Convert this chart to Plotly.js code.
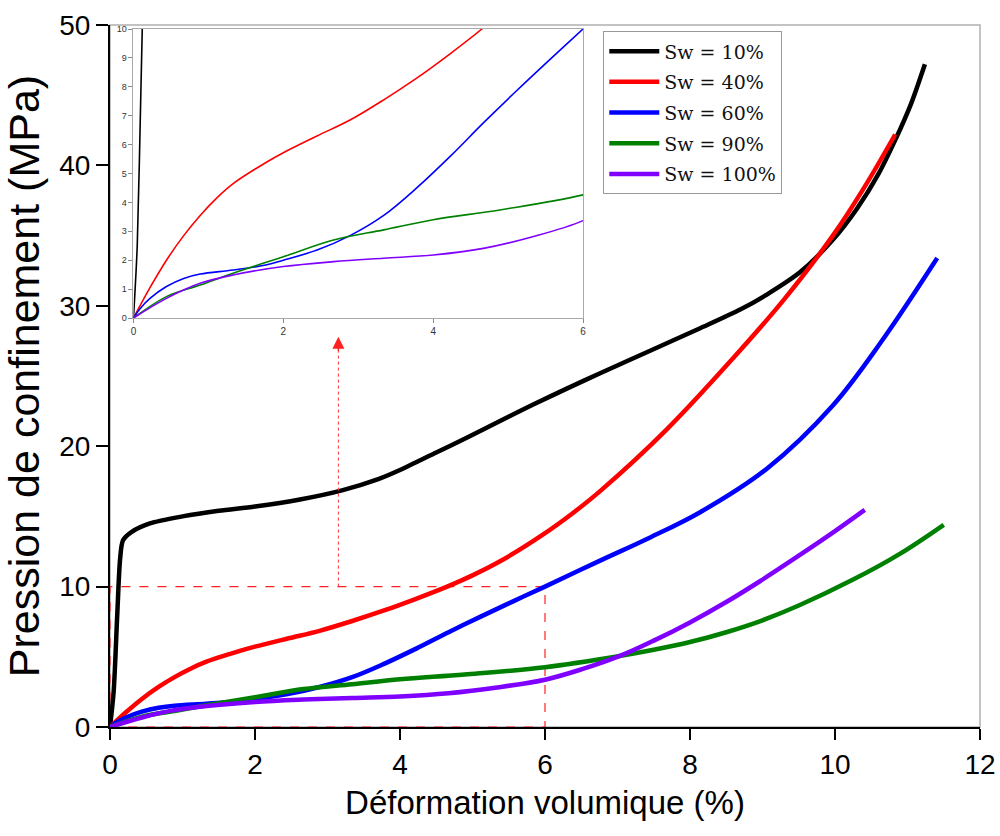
<!DOCTYPE html>
<html>
<head>
<meta charset="utf-8">
<script src="https://cdn.plot.ly/plotly-3.0.1.min.js"></script>
<style>html,body{margin:0;padding:0;background:#fff;}#chart{width:1000px;height:836px;}</style>
</head>
<body>
<div id="chart"></div>
<script>
// Series names
const seriesNames = ["Sw = 10%", "Sw = 40%", "Sw = 60%", "Sw = 90%", "Sw = 100%"];
const seriesColors = ["#000000", "#ff0000", "#0000ff", "#008000", "#8000ff"];

// Sw = 10%
const x10 = [0, 0.05, 0.1, 0.14, 0.18, 0.3, 0.55, 1.0, 1.5, 2.0, 2.62, 3.2, 3.7, 4.0, 4.5, 4.92, 5.4, 5.83, 6.3, 6.76, 7.45, 8.14, 8.7, 9.06, 9.52, 9.97, 10.3, 10.6, 10.83, 11.05, 11.24];
const y10 = [0, 2.5, 8.0, 12.0, 13.3, 13.9, 14.5, 15.0, 15.4, 15.7, 16.2, 16.85, 17.65, 18.3, 19.55, 20.6, 21.85, 22.95, 24.1, 25.2, 26.8, 28.4, 29.75, 30.8, 32.4, 34.7, 36.9, 39.4, 41.8, 44.4, 47.2];

// Sw = 40%
const x40 = [0, 0.22, 0.44, 0.67, 0.89, 1.11, 1.33, 1.78, 2.0, 2.45, 2.89, 3.34, 3.78, 4.23, 4.65, 5.0, 5.38, 5.97, 6.4, 6.76, 7.68, 8.6, 9.29, 9.97, 10.4, 10.83];
const y40 = [0, 1.05, 2.0, 2.85, 3.55, 4.15, 4.65, 5.4, 5.72, 6.3, 6.85, 7.55, 8.3, 9.15, 10.0, 10.8, 11.8, 13.7, 15.3, 16.8, 21.2, 26.3, 30.4, 35.0, 38.4, 42.2];

// Sw = 60%
const x60 = [0, 0.09, 0.22, 0.44, 0.67, 0.89, 1.33, 1.78, 2.0, 2.45, 2.89, 3.34, 3.78, 4.23, 4.67, 5.12, 5.56, 6.0, 6.76, 7.45, 8.14, 9.06, 9.97, 10.66, 11.41];
const y60 = [0, 0.33, 0.68, 1.09, 1.37, 1.52, 1.66, 1.84, 2.0, 2.35, 2.85, 3.55, 4.5, 5.6, 6.75, 7.88, 8.95, 10.0, 11.85, 13.5, 15.3, 18.4, 22.9, 27.6, 33.4];

// Sw = 90%
const x90 = [0, 0.44, 0.89, 1.33, 2.0, 2.67, 3.34, 4.0, 4.89, 6.0, 7.03, 7.5, 8.0, 8.5, 9.0, 9.5, 10.25, 10.9, 11.5];
const y90 = [0, 0.74, 1.14, 1.55, 2.12, 2.7, 3.05, 3.4, 3.74, 4.26, 5.06, 5.5, 6.05, 6.75, 7.6, 8.65, 10.5, 12.35, 14.4];

// Sw = 100%
const x100 = [0, 0.44, 0.89, 1.33, 2.0, 2.67, 3.34, 4.0, 4.67, 5.34, 6.0, 6.5, 7.05, 7.5, 8.0, 8.5, 8.97, 9.5, 10.0, 10.41];
const y100 = [0, 0.68, 1.2, 1.49, 1.78, 1.95, 2.07, 2.18, 2.41, 2.82, 3.37, 4.1, 5.1, 6.15, 7.45, 8.9, 10.4, 12.2, 13.95, 15.46];

const xs = [x10, x40, x60, x90, x100];
const ys = [y10, y40, y60, y90, y100];
const smooth = [0.8, 1.0, 1.0, 1.0, 1.0];

// Zoom window (inset) and arrow
const zoomBox = {x0: 0, x1: 6, y0: 0, y1: 10};
const arrowX = [3.15, 3.15];
const arrowY = [10, 27.0];

const xTicks = [0, 2, 4, 6, 8, 10, 12];
const yTicks = [0, 10, 20, 30, 40, 50];
const insetXTicks = [0, 2, 4, 6];
const insetYTicks = [0, 1, 2, 3, 4, 5, 6, 7, 8, 9, 10];

const traces = [];
for (let i = 0; i < 5; i++) {
  traces.push({
    x: xs[i], y: ys[i], type: 'scatter', mode: 'lines', name: seriesNames[i],
    legendgroup: 'g' + i,
    line: {color: seriesColors[i], width: 4.5, shape: 'spline', smoothing: smooth[i]},
    xaxis: 'x', yaxis: 'y'
  });
}
for (let i = 0; i < 5; i++) {
  traces.push({
    x: xs[i], y: ys[i], type: 'scatter', mode: 'lines', showlegend: false,
    line: {color: seriesColors[i], width: 1.6, shape: 'spline', smoothing: smooth[i]},
    xaxis: 'x2', yaxis: 'y2', cliponaxis: true
  });
}
// dotted arrow line
traces.push({
  x: arrowX, y: arrowY, type: 'scatter', mode: 'lines', showlegend: false,
  line: {color: '#ff3333', width: 1, dash: 'dot'}, xaxis: 'x', yaxis: 'y', hoverinfo: 'skip'
});

const sansFont = 'Liberation Sans, Arial, sans-serif';

const layout = {
  width: 1000, height: 836,
  margin: {l: 110, r: 20, t: 25, b: 109},
  paper_bgcolor: '#ffffff', plot_bgcolor: '#ffffff',
  showlegend: true,
  legend: {
    x: 0.567, y: 0.991, xanchor: 'left', yanchor: 'top',
    bordercolor: '#999999', borderwidth: 1, bgcolor: '#ffffff',
    font: {family: 'DejaVu Serif, serif', size: 19, color: '#111'},
    tracegroupgap: 3, itemwidth: 50
  },
  xaxis: {
    domain: [0, 1], anchor: 'y', range: [0, 12], tickvals: xTicks,
    ticks: 'outside', ticklen: 11, tickwidth: 2, tickcolor: '#000',
    showline: true, linecolor: '#000', linewidth: 2,
    showgrid: false, zeroline: false,
    tickfont: {family: sansFont, size: 28, color: '#000'},
    title: {text: 'Déformation volumique (%)', font: {family: sansFont, size: 33, color: '#000'}, standoff: 12}
  },
  yaxis: {
    domain: [0, 1], anchor: 'x', range: [0, 50], tickvals: yTicks,
    ticks: 'outside', ticklen: 12, tickwidth: 2, tickcolor: '#000',
    showline: true, linecolor: '#000', linewidth: 2,
    showgrid: false, zeroline: false,
    tickfont: {family: sansFont, size: 28, color: '#000'},
    title: {text: 'Pression de confinement (MPa)', font: {family: sansFont, size: 43, color: '#000'}, standoff: 8}
  },
  xaxis2: {
    domain: [0.027, 0.5437], anchor: 'y2', range: [0, 6], tickvals: insetXTicks,
    ticks: 'outside', ticklen: 4, tickwidth: 1, tickcolor: '#888',
    showline: true, linecolor: '#aaaaaa', linewidth: 1, mirror: true,
    showgrid: false, zeroline: false,
    tickfont: {family: sansFont, size: 10, color: '#333'}
  },
  yaxis2: {
    domain: [0.5826, 0.9943], anchor: 'x2', range: [0, 10], tickvals: insetYTicks,
    ticks: 'outside', ticklen: 4, tickwidth: 1, tickcolor: '#888',
    showline: true, linecolor: '#aaaaaa', linewidth: 1, mirror: true,
    showgrid: false, zeroline: false,
    tickfont: {family: sansFont, size: 9, color: '#333'}
  },
  shapes: [
    {type: 'rect', xref: 'paper', yref: 'paper', x0: 0, x1: 1, y0: 0, y1: 1,
     line: {color: '#b0b0b0', width: 1.5}, layer: 'below'},
    {type: 'rect', xref: 'x', yref: 'y', x0: zoomBox.x0, x1: zoomBox.x1, y0: zoomBox.y0, y1: zoomBox.y1,
     line: {color: '#ff2020', width: 1.2, dash: 'dash'}, layer: 'below'}
  ],
  annotations: [
    {x: arrowX[1] , y: arrowY[1] + 0.8, xref: 'x', yref: 'y', ax: arrowX[1], ay: arrowY[1] - 0.3,
     axref: 'x', ayref: 'y', showarrow: true, arrowhead: 2, arrowsize: 1.6, arrowwidth: 1.5,
     arrowcolor: '#ff2020', text: ''}
  ]
};

Plotly.newPlot('chart', traces, layout, {displayModeBar: false, staticPlot: true});
</script>
</body>
</html>
